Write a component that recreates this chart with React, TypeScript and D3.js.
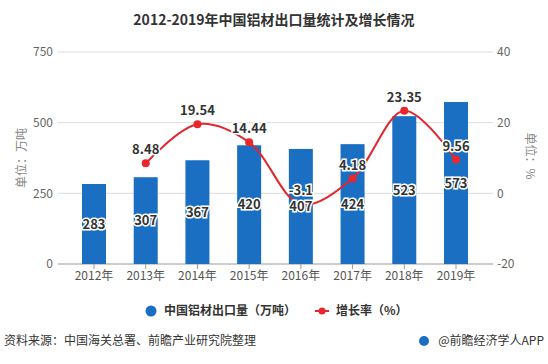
import { useEffect, useRef } from "react"
import * as d3 from "d3"

const years = ["2012年", "2013年", "2014年", "2015年", "2016年", "2017年", "2018年", "2019年"]
const exportVolume = [283, 307, 367, 420, 407, 424, 523, 573]
const growthYears = ["2013年", "2014年", "2015年", "2016年", "2017年", "2018年", "2019年"]
const growthRate = [8.48, 19.54, 14.44, -3.1, 4.18, 23.35, 9.56]
const leftTicks = [0, 250, 500, 750]
const rightTicks = [-20, 0, 20, 40]

const FONT = "'Noto Sans CJK SC', 'Noto Sans', sans-serif"

export default function App() {
  const svgRef = useRef<SVGSVGElement>(null)
  const width = 548
  const height = 364

  useEffect(() => {
    if (!svgRef.current) return
    const svg = d3.select(svgRef.current)
    svg.selectAll("*").remove()

    const left = 58
    const right = 493
    const top = 52
    const bottom = 264

    const x = d3.scalePoint<string>().domain(years).range([94, 456])
    const yL = d3.scaleLinear().domain([0, 750]).range([bottom, top])
    const yR = d3.scaleLinear().domain([-20, 40]).range([bottom, top])

    svg.append("rect").attr("width", width).attr("height", height).attr("fill", "#fff")

    // 标题
    svg.append("text")
      .attr("x", 274).attr("y", 25)
      .attr("text-anchor", "middle")
      .style("font-family", FONT).style("font-size", "14px").style("font-weight", "bold")
      .style("fill", "#333")
      .text("2012-2019年中国铝材出口量统计及增长情况")

    // 网格线
    leftTicks.forEach((t) => {
      svg.append("line")
        .attr("x1", left).attr("x2", right)
        .attr("y1", yL(t)).attr("y2", yL(t))
        .style("stroke", t === 0 ? "#999" : "#ddd").style("stroke-width", 1)
      svg.append("text")
        .attr("x", 53).attr("y", yL(t)).attr("dy", "0.35em")
        .attr("text-anchor", "end")
        .style("font-family", FONT).style("font-size", "12px").style("fill", "#666")
        .text(t)
    })
    rightTicks.forEach((t) => {
      svg.append("text")
        .attr("x", 497).attr("y", yR(t)).attr("dy", "0.35em")
        .attr("text-anchor", "start")
        .style("font-family", FONT).style("font-size", "12px").style("fill", "#666")
        .text(t)
    })

    // 轴标题
    svg.append("text")
      .attr("transform", `translate(26,158) rotate(-90)`)
      .attr("text-anchor", "middle")
      .style("font-family", FONT).style("font-size", "12px").style("fill", "#888")
      .text("单位：万吨")
    svg.append("text")
      .attr("transform", `translate(526,156) rotate(90)`)
      .attr("text-anchor", "middle")
      .style("font-family", FONT).style("font-size", "12px").style("fill", "#888")
      .text("单位：%")

    // x轴刻度
    years.forEach((yr) => {
      svg.append("line")
        .attr("x1", x(yr)!).attr("x2", x(yr)!)
        .attr("y1", bottom).attr("y2", bottom + 5)
        .style("stroke", "#999")
      svg.append("text")
        .attr("x", x(yr)!).attr("y", bottom + 16)
        .attr("text-anchor", "middle")
        .style("font-family", FONT).style("font-size", "12px").style("fill", "#555")
        .text(yr)
    })

    // 柱子
    const barW = 24
    svg.selectAll(".bar")
      .data(exportVolume)
      .enter()
      .append("rect")
      .attr("x", (d, i) => x(years[i])! - barW / 2)
      .attr("y", (d) => yL(d))
      .attr("width", barW)
      .attr("height", (d) => bottom - yL(d))
      .style("fill", "#1a6fc2")

    // 折线
    const pts = growthRate.map((v, i) => [x(growthYears[i])!, yR(v)] as [number, number])
    const line = d3.line().curve(d3.curveCatmullRom.alpha(0.5))
    svg.append("path")
      .attr("d", line(pts))
      .style("fill", "none")
      .style("stroke", "#e0282e")
      .style("stroke-width", 2)
    pts.forEach((p) => {
      svg.append("circle").attr("cx", p[0]).attr("cy", p[1]).attr("r", 4).style("fill", "#e8262b")
    })

    // 柱子标签
    exportVolume.forEach((d, i) => {
      svg.append("text")
        .attr("x", x(years[i])!).attr("y", (yL(d) + bottom) / 2).attr("dy", "0.35em")
        .attr("text-anchor", "middle")
        .style("font-family", FONT).style("font-size", "13px").style("font-weight", "bold")
        .style("fill", "#333").style("stroke", "#fff").style("stroke-width", 3)
        .style("paint-order", "stroke")
        .text(d)
    })

    // 增长率标签
    growthRate.forEach((v, i) => {
      svg.append("text")
        .attr("x", x(growthYears[i])!).attr("y", yR(v) - 9)
        .attr("text-anchor", "middle")
        .style("font-family", FONT).style("font-size", "13px").style("font-weight", "bold")
        .style("fill", "#333").style("stroke", "#fff").style("stroke-width", 3)
        .style("paint-order", "stroke")
        .text(v)
    })

    // 图例
    svg.append("circle").attr("cx", 151).attr("cy", 311).attr("r", 5.5).style("fill", "#1a6fc2")
    svg.append("text")
      .attr("x", 164).attr("y", 311).attr("dy", "0.35em")
      .style("font-family", FONT).style("font-size", "12px").style("font-weight", "bold").style("fill", "#333")
      .text("中国铝材出口量（万吨）")
    svg.append("line")
      .attr("x1", 315).attr("x2", 329).attr("y1", 311).attr("y2", 311)
      .style("stroke", "#e0282e").style("stroke-width", 2)
    svg.append("circle").attr("cx", 322).attr("cy", 311).attr("r", 3.5).style("fill", "#e8262b")
    svg.append("text")
      .attr("x", 336).attr("y", 311).attr("dy", "0.35em")
      .style("font-family", FONT).style("font-size", "12px").style("font-weight", "bold").style("fill", "#333")
      .text("增长率（%）")

    // 来源
    svg.append("text")
      .attr("x", 4).attr("y", 341).attr("dy", "0.35em")
      .style("font-family", FONT).style("font-size", "12px").style("fill", "#333")
      .text("资料来源：中国海关总署、前瞻产业研究院整理")
    svg.append("circle").attr("cx", 424).attr("cy", 341).attr("r", 5).style("fill", "#1a6fc2")
    svg.append("text")
      .attr("x", 544).attr("y", 341).attr("dy", "0.35em")
      .attr("text-anchor", "end")
      .style("font-family", FONT).style("font-size", "12px").style("fill", "#333")
      .text("@前瞻经济学人APP")
  }, [])

  return (
    <svg
      ref={svgRef}
      width={width}
      height={height}
      style={{ position: "absolute", left: 0, top: 0 }}
    />
  )
}
